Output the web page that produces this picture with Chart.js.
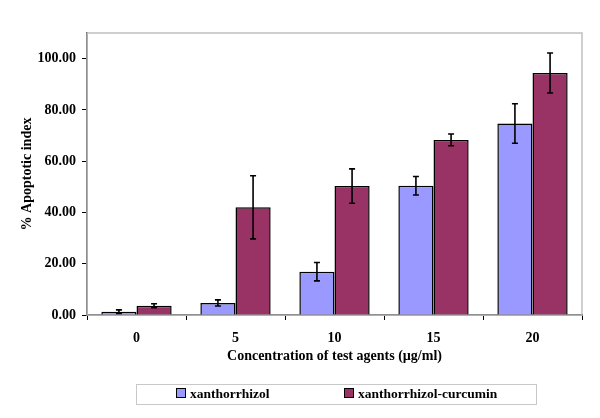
<!DOCTYPE html>
<html>
<head>
<meta charset="utf-8">
<script src="https://cdn.jsdelivr.net/npm/chart.js@4.4.1/dist/chart.umd.min.js"></script>
<style>
    body { margin: 0; background: #fff; }
    #wrap { position: relative; width: 600px; height: 418px; }
    #legend {
        position: absolute; left: 136px; top: 384px; width: 401px; height: 21px;
        border: 1px solid #c8c8c8; box-sizing: border-box;
        font: bold 13.5px "Liberation Serif", serif; color: #000;
    }
    #legend span { position: absolute; top: 1px; white-space: nowrap; }
    #legend i {
        display: inline-block; width: 8px; height: 8px; border: 1px solid #000;
        margin-right: 4px; vertical-align: 0px;
    }
</style>
</head>
<body>
<div id="wrap">
    <canvas id="chart" width="600" height="418"></canvas>
    <div id="legend"></div>
</div>
<script>
"use strict";

const categories = ["0", "5", "10", "15", "20"];
const seriesNames = ["xanthorrhizol", "xanthorrhizol-curcumin"];
const xanthorrhizol = [1.3, 4.7, 16.9, 50.4, 74.7];
const xanthorrhizolErr = [0.7, 1.2, 3.6, 3.6, 7.7];
const curcumin = [3.6, 42.0, 50.3, 68.3, 94.4];
const curcuminErr = [0.8, 12.3, 6.7, 2.3, 7.8];
const yTicks = [0, 20, 40, 60, 80, 100];
const colors = ["#9999FF", "#993366"];

/**
 * ritar felstaplar ovanpå staplarna via y-skalan
 */
const errorBars = {
    id: "errorBars",
    afterDatasetsDraw(chart) {
        const ctx = chart.ctx;
        const y = chart.scales.y;
        chart.data.datasets.forEach((ds, i) => {
            const meta = chart.getDatasetMeta(i);
            meta.data.forEach((bar, j) => {
                const top = y.getPixelForValue(ds.data[j] + ds.errors[j]);
                const bot = y.getPixelForValue(ds.data[j] - ds.errors[j]);
                ctx.save();
                ctx.strokeStyle = "#000";
                ctx.lineWidth = 1.6;
                ctx.beginPath();
                ctx.moveTo(bar.x, top); ctx.lineTo(bar.x, bot);
                ctx.moveTo(bar.x - 3, top); ctx.lineTo(bar.x + 3, top);
                ctx.moveTo(bar.x - 3, bot); ctx.lineTo(bar.x + 3, bot);
                ctx.stroke();
                ctx.restore();
            });
        });
    }
};

// grå ram runt ritytan
const frame = {
    id: "frame",
    beforeDatasetsDraw(chart) {
        const a = chart.chartArea;
        const ctx = chart.ctx;
        ctx.save();
        ctx.strokeStyle = "#c0c0c0";
        ctx.lineWidth = 1.5;
        ctx.strokeRect(a.left, a.top, a.right - a.left, a.bottom - a.top);
        ctx.restore();
    }
};

Chart.defaults.font.family = '"Liberation Serif", serif';
Chart.defaults.font.weight = "bold";
Chart.defaults.font.size = 14;
Chart.defaults.color = "#000";

new Chart(document.getElementById("chart"), {
    type: "bar",
    data: {
        labels: categories,
        datasets: [{
            label: seriesNames[0],
            data: xanthorrhizol,
            errors: xanthorrhizolErr,
            backgroundColor: colors[0],
            borderColor: "#000",
            borderWidth: 1.5
        }, {
            label: seriesNames[1],
            data: curcumin,
            errors: curcuminErr,
            backgroundColor: colors[1],
            borderColor: "#000",
            borderWidth: 1.5
        }]
    },
    options: {
        responsive: false,
        animation: false,
        layout: { padding: { top: 33, right: 18, left: 0, bottom: 50 } },
        datasets: { bar: { categoryPercentage: 0.71, barPercentage: 1.0 } },
        plugins: { legend: { display: false }, tooltip: { enabled: false } },
        scales: {
            x: {
                grid: { display: true, drawOnChartArea: false, drawTicks: true, tickLength: 5, color: "#000", offset: true },
                border: { color: "#000", width: 1.5 },
                ticks: { padding: 10 },
                title: { display: true, text: "Concentration of test agents (µg/ml)", padding: { top: 4, bottom: 3 } },
                afterFit(scale) { scale.height = 53; }
            },
            y: {
                min: 0,
                max: 110,
                grid: { display: true, drawOnChartArea: false, drawTicks: true, tickLength: 5, color: "#000" },
                border: { color: "#000", width: 1.5 },
                ticks: { padding: 6, callback: v => v.toFixed(2) },
                afterBuildTicks(scale) { scale.ticks = yTicks.map(v => ({ value: v })); },
                title: { display: true, text: "% Apoptotic index", padding: { top: 19, bottom: 0 } },
                afterFit(scale) { scale.width = 87; }
            }
        }
    },
    plugins: [frame, errorBars]
});

// legend som html
const legend = document.getElementById("legend");
const legendX = [39, 207];
seriesNames.forEach((name, i) => {
    const s = document.createElement("span");
    s.style.left = legendX[i] + "px";
    s.innerHTML = '<i style="background:' + colors[i] + '"></i>' + name;
    legend.appendChild(s);
});
</script>
</body>
</html>
